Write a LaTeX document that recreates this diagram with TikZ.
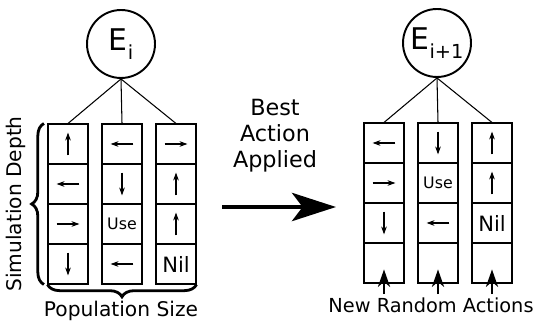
\documentclass[tikz,border=0pt]{standalone}
\usepackage{fontspec}
\setmainfont{DejaVu Sans}
\usepackage{tikz}
\usetikzlibrary{arrows.meta,decorations.pathreplacing}
\tikzset{cell/.style={draw,line width=0.6pt,minimum size=0.8cm,inner sep=0pt}}
\tikzset{env/.style={circle,draw,line width=1.1pt,minimum size=1.36cm,inner sep=0pt}}
\tikzset{act/.style={line width=0.6pt,-{Stealth[length=4.5pt,width=3.2pt]}}}
\tikzset{newact/.style={line width=0.9pt,-{Stealth[length=10pt,width=7pt,inset=3pt]}}}
\tikzset{lbl/.style={font=\fontsize{11.5}{13}\selectfont}}
\tikzset{cbrace/.style={decorate,decoration={brace,amplitude=7pt},line width=1.6pt}}
\newcommand{\actup}[1]{\draw[act] ([yshift=-6.5pt]#1.center) -- ([yshift=6.5pt]#1.center);}
\newcommand{\actdown}[1]{\draw[act] ([yshift=6.5pt]#1.center) -- ([yshift=-6.5pt]#1.center);}
\newcommand{\actleft}[1]{\draw[act] ([xshift=6.5pt]#1.center) -- ([xshift=-6.5pt]#1.center);}
\newcommand{\actright}[1]{\draw[act] ([xshift=-6.5pt]#1.center) -- ([xshift=6.5pt]#1.center);}
\newcommand{\envlabel}[1]{\fontsize{17}{17}\selectfont E\raisebox{-0.3em}{\fontsize{11}{11}\selectfont #1}}
\begin{document}
\begin{tikzpicture}[x=0.02cm,y=-0.02cm]
    \useasboundingbox (0,0) rectangle (544,323);
    % population before the step
    \node[env] (ei) at (121,44) {\envlabel{i}};
    \foreach \c/\x in {1/68,2/122,3/176}
      \foreach \r in {1,...,4}
        \node[cell] (l\c\r) at (\x,{104+40*\r}) {};
    \draw[line width=0.6pt] (ei.south) -- (l11.north);
    \draw[line width=0.6pt] (ei.south) -- (l21.north);
    \draw[line width=0.6pt] (ei.south) -- (l31.north);
    \actup{l11} \actleft{l12} \actright{l13} \actdown{l14}
    \actleft{l21} \actdown{l22} \actleft{l24}
    \node[font=\fontsize{9}{9}\selectfont] (luse) at (l23) {Use};
    \actright{l31} \actup{l32} \actup{l33}
    \node[font=\fontsize{12}{12}\selectfont] (lnil) at (l34) {Nil};
    \draw[cbrace] ([xshift=-2pt]l14.south west) -- ([xshift=-2pt]l11.north west);
    \draw[cbrace] (l34.south east) -- (l14.south west);
    \node[lbl,rotate=90] (depth) at (16,204) {Simulation Depth};
    \node[lbl] (popsize) at (121,311) {Population Size};
    % best action applied
    \node[align=center,font=\fontsize{12.7}{14.7}\selectfont] (best) at (275,136) {Best\\Action\\Applied};
    \coordinate (bs) at (222,207);
    \coordinate (be) at (336,207);
    \draw[line width=2.8pt,-{Stealth[length=25pt,width=16pt,inset=6pt]}] (bs) -- (be);
    % population after the step
    \node[env] (enext) at (437,43) {\envlabel{i+1}};
    \foreach \c/\x in {1/384,2/438,3/492}
      \foreach \r in {1,...,4}
        \node[cell] (r\c\r) at (\x,{103+40*\r}) {};
    \draw[line width=0.6pt] (enext.south) -- (r11.north);
    \draw[line width=0.6pt] (enext.south) -- (r21.north);
    \draw[line width=0.6pt] (enext.south) -- (r31.north);
    \actleft{r11} \actright{r12} \actdown{r13}
    \actdown{r21} \actleft{r23}
    \node[font=\fontsize{9}{9}\selectfont] (ruse) at (r22) {Use};
    \actup{r31} \actup{r32}
    \node[font=\fontsize{12}{12}\selectfont] (rnil) at (r33) {Nil};
    \draw[newact] ([yshift=-6pt]r14.south) -- ([yshift=8pt]r14.south);
    \draw[newact] ([yshift=-6pt]r24.south) -- ([yshift=8pt]r24.south);
    \draw[newact] ([yshift=-6pt]r34.south) -- ([yshift=8pt]r34.south);
    \node[font=\fontsize{11}{13}\selectfont] (newrand) at (431,305) {New Random Actions};
\end{tikzpicture}
\end{document}
